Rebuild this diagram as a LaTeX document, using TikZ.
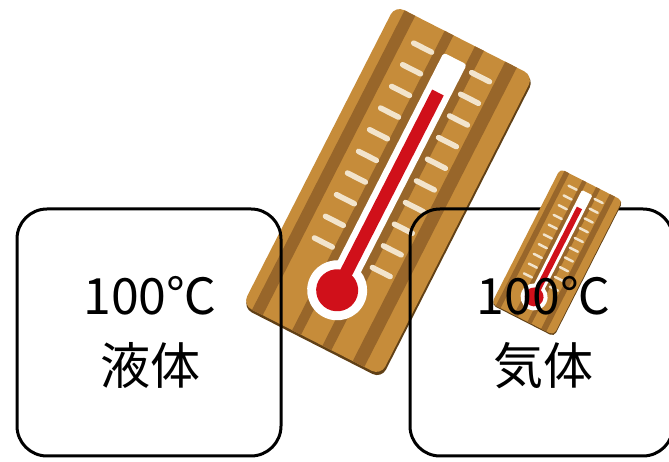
\documentclass[tikz,border=0pt]{standalone}
\usepackage{fontspec}
\setmainfont{Noto Sans CJK JP}
\definecolor{woodlight}{RGB}{198,140,58}
\definecolor{wooddark}{RGB}{152,102,42}
\definecolor{woodshadow}{RGB}{96,64,22}
\definecolor{tickcream}{RGB}{242,228,204}
\definecolor{thermored}{RGB}{208,16,26}

% wooden thermometer: #1 centre, #2 scale
\newcommand\drawthermo[2]{%
\begin{scope}[shift={(#1)}, rotate=-27, scale=#2]
  \fill[woodshadow, rounded corners=#2*10pt] (-76,-170.5) rectangle (79.5,166);
  \fill[woodlight, rounded corners=#2*10pt] (-77.5,-168) rectangle (77.5,168);
  \begin{scope}
    \clip[rounded corners=#2*10pt] (-77.5,-168) rectangle (77.5,168);
    \foreach \a/\b in {-67/-55, -22/-12, 12/22, 46/59}
      \fill[wooddark] (\a,-170) rectangle (\b,170);
  \end{scope}
  \foreach \k in {0,...,9}{
    \draw[tickcream, line width=#2*5.5pt, line cap=round]
      (-44,143-24.3*\k) -- (-24,143-24.3*\k);
    \draw[tickcream, line width=#2*5.5pt, line cap=round]
      (21,143-24.3*\k) -- (41,143-24.3*\k);
  }
  \fill[white, rounded corners=#2*3pt] (-13,-112) rectangle (13,148);
  \fill[white] (0,-112) circle (30);
  \fill[thermored] (0,-112) circle (21);
  \fill[thermored] (-6.5,-112) rectangle (6.5,110);
\end{scope}}

\begin{document}
\begin{tikzpicture}[x=1pt,y=1pt,
  roundbox/.style={draw=black, line width=3pt, rounded corners=30pt,
    inner sep=0pt, anchor=south west, minimum height=247pt},
  boxtext/.style={align=center, inner sep=0pt,
    font=\fontsize{50}{70}\selectfont}]
\clip (0,0) rectangle (669,462);
\fill[white] (0,0) rectangle (669,462);

% large thermometer behind the boxes
\drawthermo{388,271.5}{1}

% the two state boxes
\node[roundbox, minimum width=264pt] (liquid) at (15.5,4.5) {};
\node[roundbox, minimum width=263pt] (gas) at (408.5,4.5) {};

% small thermometer over the gas box
\drawthermo{557,210}{0.45}

% labels
\node[boxtext] (liquidtext) at ([xshift=1pt]liquid.center) {100℃\\液体};
\node[boxtext] (gastext) at ([xshift=2pt]gas.center) {100℃\\気体};
\end{tikzpicture}
\end{document}
